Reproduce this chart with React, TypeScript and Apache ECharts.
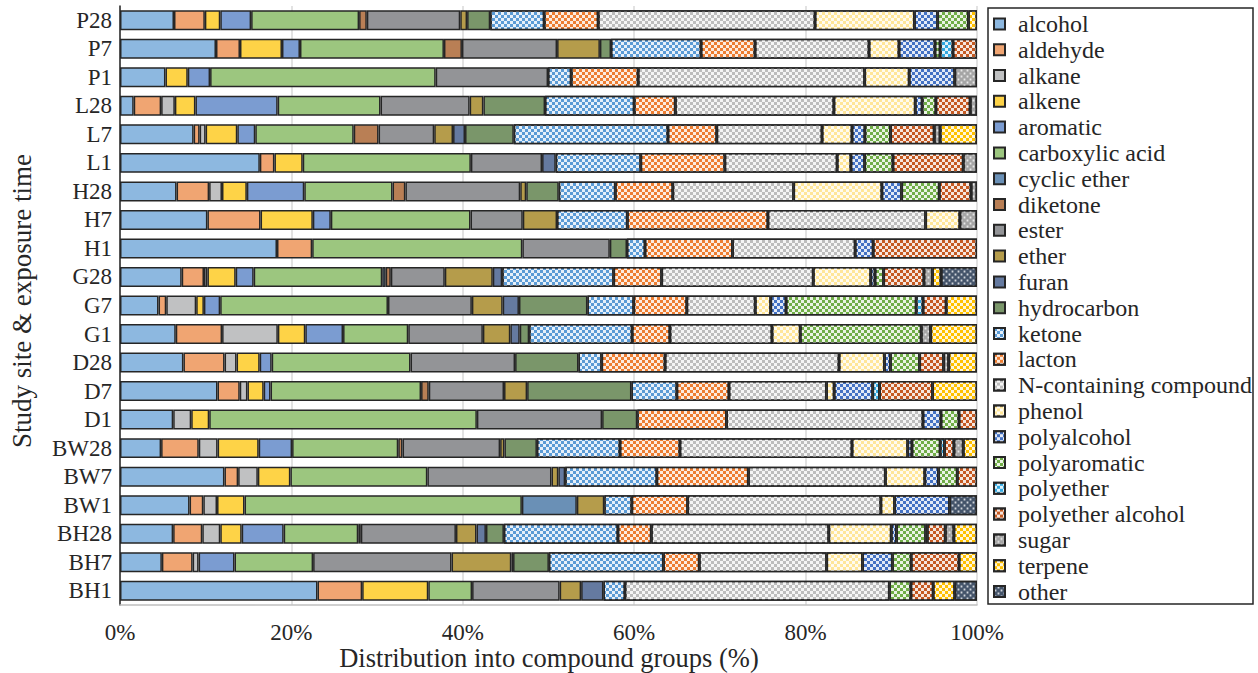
import React, { useEffect, useRef } from "react";
import * as echarts from "echarts";

const categories = ["P28","P7","P1","L28","L7","L1","H28","H7","H1","G28","G7","G1","D28","D7","D1","BW28","BW7","BW1","BH28","BH7","BH1"];

// values per series, in category order above (P28 ... BH1), % of total
const alcohol =        [6.3,11.2,5.3,1.6,8.6,16.3,6.6,10.2,18.3,7.2,4.5,6.5,7.4,11.4,6.2,4.8,12.2,8.1,6.2,4.9,23.0];
const aldehyde =       [3.6,2.8,0,3.2,0.7,1.7,3.8,6.2,4.1,2.6,0.9,5.4,4.8,2.6,0,4.4,1.6,1.6,3.4,3.6,5.2];
const alkane =         [0,0,0,1.6,0.7,0,1.5,0,0,0.4,3.5,6.5,1.4,0.9,2.1,2.2,2.3,1.6,2.1,0.7,0];
const alkene =         [1.8,4.9,2.6,2.4,3.7,3.3,2.9,6.1,0,3.3,0.9,3.2,2.7,1.9,2.1,4.8,3.8,3.2,2.5,0,7.7];
const aromatic =       [3.6,2.1,2.6,9.6,2.1,0,6.7,2.1,0,2.1,1.9,4.4,1.4,0.8,0,3.9,0,0,4.9,4.2,0];
const carboxylicAcid = [12.6,16.8,26.3,12.0,11.5,19.6,10.3,16.3,24.5,15.0,19.6,7.6,16.2,17.6,31.2,12.4,16.0,32.3,8.7,9.2,5.1];
const cyclicEther =    [0,0,0,0,0,0,0,0,0,0.4,0,0,0,0,0,0,0,6.4,0,0,0];
const diketone =       [0.9,2.1,0,0,2.9,0,1.5,0,0,0.6,0,0,0,0.9,0,0.5,0,0,0.3,0,0];
const ester =          [10.9,11.1,13.1,10.4,6.5,8.3,13.4,6.1,10.2,6.3,9.8,8.7,12.2,8.8,14.6,11.4,14.5,0,11.1,16.2,10.2];
const ether =          [0.8,5.0,0,1.6,2.2,0,0.7,4.0,0,5.6,3.6,3.2,0,2.7,0,0.5,0.8,3.2,2.4,7.0,2.5];
const furan =          [0,0,0,0,1.4,1.6,0,0,0,1.1,1.9,1.1,0,0,0,0,0.8,0,1.1,0.2,2.6];
const hydrocarbon =    [2.7,1.3,0,7.2,5.7,0,3.8,0,2.0,0,8.0,1.1,7.4,12.2,4.1,3.8,0,0,2.1,4.2,0];
const ketone =         [6.3,10.5,2.7,10.4,18.0,9.9,6.6,8.2,2.1,13.0,5.4,12.0,2.7,5.3,0,9.7,10.7,3.2,13.3,13.4,2.5];
const lacton =         [6.3,6.3,7.8,4.8,5.7,9.8,6.7,16.4,10.2,5.6,6.2,4.4,7.4,6.1,10.4,7.0,10.7,6.5,3.9,4.2,0];
const nContaining =    [25.3,13.3,26.4,18.5,12.3,13.1,14.1,18.4,14.3,17.7,8.0,11.9,20.3,11.4,22.9,20.1,16.0,22.5,20.7,14.9,30.8];
const phenol =         [11.6,3.5,5.2,9.5,3.5,1.6,10.3,4.0,0,6.7,1.8,3.3,5.3,0.9,0,6.5,4.6,1.6,7.3,4.2,0];
const polyalcohol =    [2.7,4.2,5.3,0.8,1.5,1.6,2.3,0,2.1,0.5,1.8,0,0.7,4.5,2.1,0.5,1.6,6.4,0.6,3.5,0];
const polyaromatic =   [3.6,0.6,0,1.6,3.0,3.3,4.4,0,0,1.0,15.2,14.1,3.4,0,2.1,3.3,2.2,0,3.4,2.2,2.5];
const polyether =      [0,1.5,0,0,0,0,0,0,0,0,0.8,0,0,0.8,0,0.5,0,0,0.2,0,0];
const polyetherAlcohol=[0,2.8,0,4.0,5.1,8.2,3.7,0,12.1,4.7,2.7,0,2.8,6.2,2.1,1.1,2.3,0,2.1,5.6,2.6];
const sugar =          [0,0,2.6,0.8,0.7,1.6,0.7,2.0,0,1.0,0,1.1,0.6,0,0,1.1,0,0,1.0,0,0];
const terpene =        [1.0,0,0,0,4.3,0,0,0,0,1.0,3.6,5.4,3.3,5.2,0,1.6,0,0,2.7,2.1,2.5];
const other =          [0,0,0,0,0,0,0,0,0,4.2,0,0,0,0,0,0,0,3.2,0,0,2.6];

const groupNames = ["alcohol","aldehyde","alkane","alkene","aromatic","carboxylic acid","cyclic ether","diketone","ester","ether","furan","hydrocarbon","ketone","lacton","N-containing compound","phenol","polyalcohol","polyaromatic","polyether","polyether alcohol","sugar","terpene","other"];
const groupValues = [alcohol,aldehyde,alkane,alkene,aromatic,carboxylicAcid,cyclicEther,diketone,ester,ether,furan,hydrocarbon,ketone,lacton,nContaining,phenol,polyalcohol,polyaromatic,polyether,polyetherAlcohol,sugar,terpene,other];
const xTicks = [0, 20, 40, 60, 80, 100];

const colors = ["#8DB8E0","#F0A572","#C0C1C2","#FED347","#7B9CD1","#9CC67F","#6A90B6","#B97F55","#939497","#B59C4B","#657AA0","#7A966A","#5B9BD5","#ED7D31","#BDBDBD","#FFE699","#4472C4","#70AD47","#33A8E0","#C55A22","#A5A5A5","#FFC000","#44546A"];
const patterned = [false,false,false,false,false,false,false,false,false,false,false,false,true,true,true,true,true,true,true,true,true,true,true];

const FONT = "'Liberation Serif', 'Times New Roman', serif";

export default function App() {
  const ref = useRef<HTMLDivElement>(null);
  useEffect(() => {
    if (!ref.current) return;
    const chart = echarts.init(ref.current, undefined, { renderer: "svg" });
    const totals = categories.map((_, ci) => groupValues.reduce((s, arr) => s + arr[ci], 0));
    const checkDecal = {
      symbol: "rect",
      symbolSize: 1,
      dashArrayX: [[3, 3], [0, 3, 3, 0]],
      dashArrayY: [3, 0],
      color: "rgba(255,255,255,0.85)",
    };
    const dotDecal = {
      symbol: "rect",
      symbolSize: 0.6,
      dashArrayX: [[3, 3], [0, 3, 3, 0]],
      dashArrayY: [3, 0],
      color: "rgba(255,255,255,0.75)",
    };
    const series = groupNames.map((name, i) => ({
      name,
      type: "bar",
      stack: "total",
      barCategoryGap: "30%",
      data: groupValues[i].map((v, ci) => (v > 0 ? (v / totals[ci]) * 100 : null)),
      itemStyle: {
        color: colors[i],
        borderColor: "#262626",
        borderWidth: 1.5,
        decal: patterned[i] ? (name === "sugar" || name === "other" ? dotDecal : checkDecal) : undefined,
      },
      emphasis: { disabled: true },
    }));
    chart.setOption({
      animation: false,
      grid: { left: 120, right: 281, top: 6, bottom: 68, containLabel: false },
      xAxis: {
        type: "value",
        min: xTicks[0],
        max: xTicks[xTicks.length - 1],
        interval: 20,
        axisLine: { show: true, lineStyle: { color: "#BFBFBF", width: 1.5 } },
        axisTick: { show: false },
        splitLine: { show: true, lineStyle: { color: "#D9D9D9", width: 1.5 } },
        axisLabel: {
          formatter: "{value}%",
          fontFamily: FONT,
          fontSize: 23,
          color: "#262626",
          margin: 16,
        },
      },
      yAxis: {
        type: "category",
        inverse: true,
        data: categories,
        axisLine: { show: true, lineStyle: { color: "#262626", width: 1.5 } },
        axisTick: { show: false },
        axisLabel: { interval: 0, fontFamily: FONT, fontSize: 23, color: "#262626", margin: 8 },
      },
      legend: {
        orient: "vertical",
        left: 993,
        top: 11,
        padding: 0,
        itemGap: 0,
        itemWidth: 11,
        itemHeight: 11,
        icon: "rect",
        data: groupNames,
        textStyle: { fontFamily: FONT, fontSize: 24, lineHeight: 25.8, color: "#262626", padding: [0, 0, 0, 8] },
        selectedMode: false,
      },
      graphic: [
        {
          type: "rect",
          shape: { x: 988, y: 8, width: 265, height: 596 },
          style: { fill: "none", stroke: "#262626", lineWidth: 1.5 },
          silent: true,
        },
        {
          type: "text",
          x: 549,
          y: 658,
          style: {
            text: "Distribution into compound groups (%)",
            font: `26.5px ${FONT}`,
            fill: "#262626",
            textAlign: "center",
            textVerticalAlign: "middle",
          },
        },
        {
          type: "text",
          x: 22,
          y: 301,
          rotation: Math.PI / 2,
          style: {
            text: "Study site & exposure time",
            font: `27px ${FONT}`,
            fill: "#262626",
            textAlign: "center",
            textVerticalAlign: "middle",
          },
        },
      ],
      series,
    });
    return () => chart.dispose();
  }, []);
  return (
    <div
      ref={ref}
      style={{ position: "fixed", left: 0, top: 0, width: 1258, height: 673, background: "#fff" }}
    />
  );
}
